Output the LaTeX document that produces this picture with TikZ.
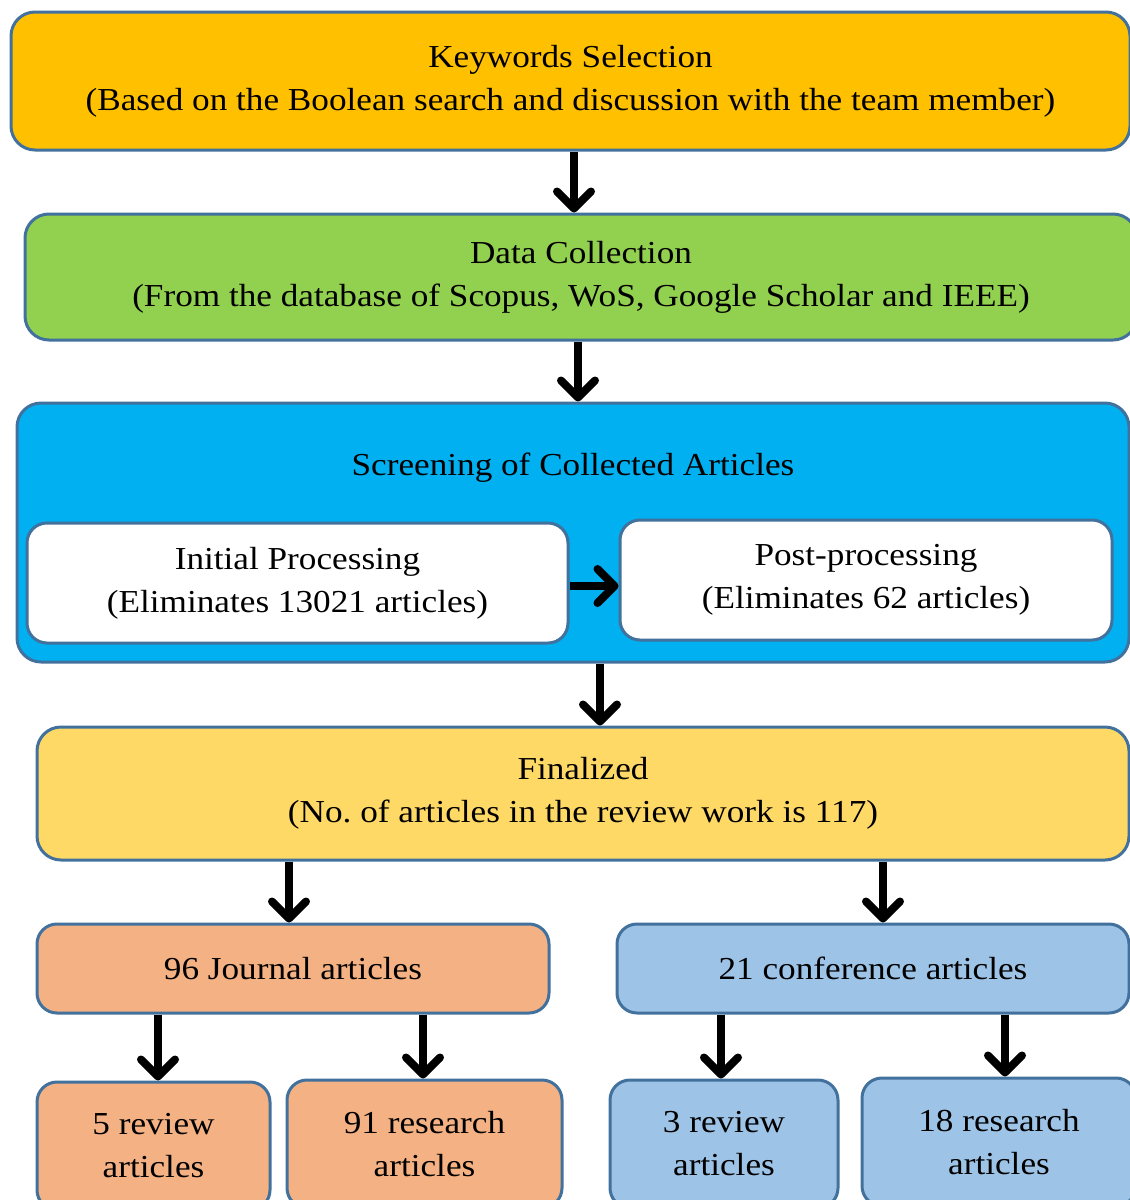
\documentclass[tikz,border=0pt]{standalone}
\usepackage{fontspec}
\setmainfont{Liberation Serif}[FakeStretch=1.1]
\usetikzlibrary{arrows.meta}
\definecolor{edge}{HTML}{41719C}
\definecolor{kwfill}{HTML}{FFC000}
\definecolor{dcfill}{HTML}{92D050}
\definecolor{scfill}{HTML}{00B0F0}
\definecolor{finfill}{HTML}{FFD966}
\definecolor{jrfill}{HTML}{F4B183}
\definecolor{cffill}{HTML}{9DC3E6}
\tikzset{
  label font/.style={font=\fontsize{32}{43}\selectfont},
  box/.style={draw=edge, line width=3pt, rounded corners=24pt, inner sep=0pt,
    align=center, label font},
  smallbox/.style={box, rounded corners=20pt},
  flow/.style={line width=8pt,
    -{Straight Barb[length=17pt, width=34pt, line cap=round, line join=round]}},
}
\begin{document}
\begin{tikzpicture}[x=1pt, y=-1pt]
\useasboundingbox (0,0) rectangle (1130,1200);
\clip (0,0) rectangle (1130,1200);

% stages of the review pipeline
\node[box, fill=kwfill, minimum width=1119pt, minimum height=138pt] (kw) at (570.5,81)
  {Keywords Selection\\(Based on the Boolean search and discussion with the team member)};
\node[box, fill=dcfill, minimum width=1112pt, minimum height=126pt] (dc) at (581,277)
  {Data Collection\\(From the database of Scopus, WoS, Google Scholar and IEEE)};
\node[box, fill=scfill, minimum width=1112pt, minimum height=259pt] (sc) at (573,532.5) {};
\node[label font] (sct) at (573,468) {Screening of Collected Articles};
\node[smallbox, fill=white, minimum width=541pt, minimum height=120pt] (ip) at (297.5,583)
  {Initial Processing\\(Eliminates 13021 articles)};
\node[smallbox, fill=white, minimum width=492pt, minimum height=120pt] (pp) at (866,580)
  {Post-processing\\(Eliminates 62 articles)};
\node[box, fill=finfill, minimum width=1092pt, minimum height=133pt] (fin) at (583,793.5)
  {Finalized\\(No.\ of articles in the review work is 117)};

% split by publication type
\node[smallbox, fill=jrfill, minimum width=512pt, minimum height=89pt] (jr) at (293,968.5)
  {96 Journal articles};
\node[smallbox, fill=cffill, minimum width=512pt, minimum height=89pt] (cf) at (873,968.5)
  {21 conference articles};
\node[smallbox, fill=jrfill, minimum width=233pt, minimum height=128pt] (r5) at (153.5,1146)
  {5 review\\articles};
\node[smallbox, fill=jrfill, minimum width=275pt, minimum height=128pt] (r91) at (424.5,1144)
  {91 research\\articles};
\node[smallbox, fill=cffill, minimum width=228pt, minimum height=128pt] (r3) at (724,1144)
  {3 review\\articles};
\node[smallbox, fill=cffill, minimum width=274pt, minimum height=128pt] (r18) at (999,1142)
  {18 research\\articles};

% arrow columns
\coordinate (c1) at (574,0);
\coordinate (c2) at (578,0);
\coordinate (c3) at (600,0);
\coordinate (c4) at (289,0);
\coordinate (c5) at (883,0);
\coordinate (c6) at (158,0);
\coordinate (c7) at (423,0);
\coordinate (c8) at (721,0);
\coordinate (c9) at (1005,0);
\coordinate (r1) at (0,586);

\draw[flow] (kw.south -| c1) -- (dc.north -| c1);
\draw[flow] (dc.south -| c2) -- (sc.north -| c2);
\draw[flow] (sc.south -| c3) -- (fin.north -| c3);
\draw[flow] (ip.east |- r1) -- (pp.west |- r1);
\draw[flow] (fin.south -| c4) -- (jr.north -| c4);
\draw[flow] (fin.south -| c5) -- (cf.north -| c5);
\draw[flow] (jr.south -| c6) -- (r5.north -| c6);
\draw[flow] (jr.south -| c7) -- (r91.north -| c7);
\draw[flow] (cf.south -| c8) -- (r3.north -| c8);
\draw[flow] (cf.south -| c9) -- (r18.north -| c9);
\end{tikzpicture}
\end{document}
